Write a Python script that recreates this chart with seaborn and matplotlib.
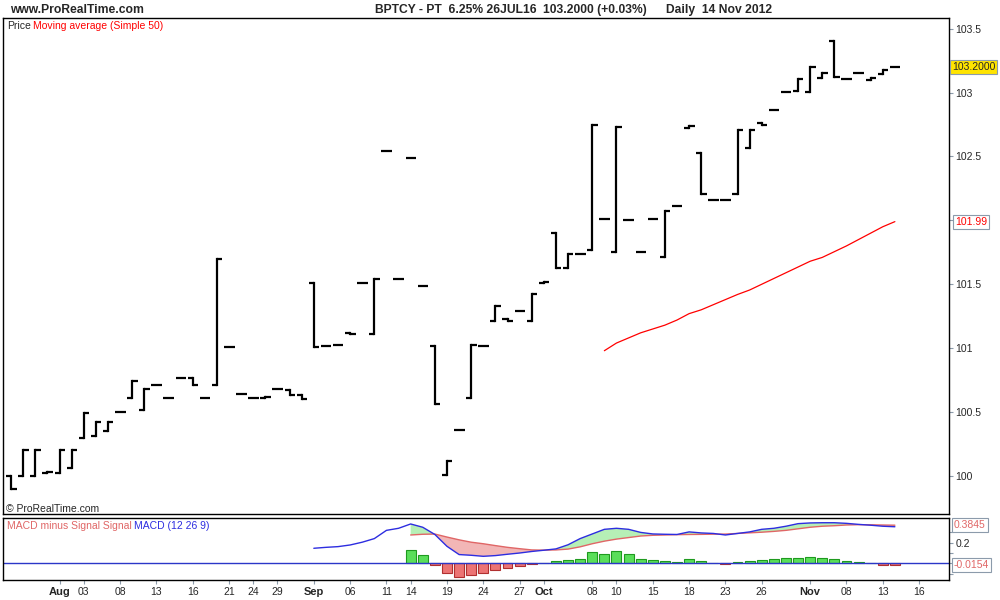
import numpy as np
import pandas as pd
import matplotlib.pyplot as plt
import seaborn as sns

sns.set_style("white")
plt.rcParams["font.family"] = ["Liberation Sans", "DejaVu Sans"]

# daily open / close, one entry per bar (26 Jul .. 14 Nov 2012)
price_open = [100.00, 100.00, 100.00, 100.02, 100.02, 100.06, 100.30, 100.315, 100.35, 100.50,
              100.61, 100.52, 100.71, 100.61, 100.77, 100.77, 100.61, 100.71, 101.01, 100.64,
              100.61, 100.61, 100.68, 100.67, 100.635, 101.51, 101.02, 101.025, 101.12, 101.51,
              101.11, 102.54, 101.54, 102.49, 101.49, 101.02, 100.01, 100.36, 100.61, 101.02,
              101.21, 101.225, 101.29, 101.21, 101.51, 101.90, 101.625, 101.74, 101.77, 102.01,
              101.755, 102.00, 101.755, 102.01, 101.715, 102.115, 102.72, 102.525, 102.16, 102.16,
              102.21, 102.57, 102.765, 102.865, 103.005, 103.01, 103.005, 103.11, 103.40, 103.105,
              103.15, 103.10, 103.145, 103.20]
price_close = [99.90, 100.20, 100.20, 100.03, 100.20, 100.20, 100.49, 100.42, 100.42, 100.50,
               100.74, 100.68, 100.71, 100.61, 100.77, 100.71, 100.61, 101.70, 101.01, 100.64,
               100.61, 100.62, 100.68, 100.635, 100.60, 101.01, 101.02, 101.025, 101.11, 101.51,
               101.54, 102.54, 101.54, 102.49, 101.49, 100.56, 100.12, 100.36, 101.025, 101.02,
               101.33, 101.21, 101.29, 101.42, 101.52, 101.625, 101.74, 101.74, 102.75, 102.01,
               102.73, 102.00, 101.755, 102.01, 102.07, 102.115, 102.735, 102.21, 102.16, 102.16,
               102.71, 102.71, 102.75, 102.865, 103.005, 103.105, 103.20, 103.15, 103.125, 103.105,
               103.15, 103.11, 103.175, 103.20]

# moving average (simple 50), starts at bar 49
ma_start = 49
ma50 = [100.98, 101.04, 101.08, 101.12, 101.15, 101.18, 101.22, 101.27, 101.30, 101.34,
        101.38, 101.42, 101.455, 101.50, 101.545, 101.59, 101.635, 101.68, 101.71, 101.755,
        101.80, 101.85, 101.90, 101.95, 101.99]

# MACD (12 26 9)
macd_start = 25
macd = [0.146, 0.155, 0.162, 0.178, 0.205, 0.24, 0.32, 0.34, 0.382, 0.35,
        0.28, 0.165, 0.085, 0.078, 0.068, 0.075, 0.088, 0.10, 0.115, 0.127,
        0.14, 0.18, 0.24, 0.285, 0.33, 0.34, 0.33, 0.30, 0.285, 0.282,
        0.28, 0.305, 0.295, 0.29, 0.275, 0.29, 0.305, 0.33, 0.34, 0.36,
        0.385, 0.392, 0.394, 0.394, 0.388, 0.378, 0.37, 0.36, 0.355]
signal_start = 33
signal = [0.275, 0.282, 0.284, 0.255, 0.228, 0.205, 0.19, 0.172, 0.155, 0.142,
          0.13, 0.128, 0.13, 0.138, 0.16, 0.19, 0.215, 0.235, 0.25, 0.265,
          0.272, 0.275, 0.278, 0.28, 0.281, 0.283, 0.284, 0.29, 0.296, 0.302,
          0.31, 0.32, 0.335, 0.35, 0.36, 0.365, 0.372, 0.375, 0.374, 0.372,
          0.37]
hist = [0.125, 0.08, -0.017, -0.09, -0.135, -0.115, -0.097, -0.065, -0.05, -0.027,
        -0.01, 0.002, 0.022, 0.032, 0.042, 0.107, 0.09, 0.119, 0.09, 0.042,
        0.03, 0.019, 0.013, 0.042, 0.022, 0.002, -0.01, 0.013, 0.022, 0.032,
        0.042, 0.051, 0.051, 0.061, 0.051, 0.042, 0.022, 0.013, 0.0, -0.012,
        -0.0154]

tick_pos = [4, 6, 9, 12, 15, 18, 20, 22, 25, 28, 31, 33, 36, 39, 42, 44,
            48, 50, 53, 56, 59, 62, 66, 69, 72, 75]
tick_lab = ["Aug", "03", "08", "13", "16", "21", "24", "29", "Sep", "06", "11", "14",
            "19", "24", "27", "Oct", "08", "10", "15", "18", "23", "26", "Nov", "08", "13", "16"]
months = ["Aug", "Sep", "Oct", "Nov"]

# the 102 label sits under the moving-average box
price_ticks = [100, 100.5, 101, 101.5, 102, 102.5, 103, 103.5]
price_labels = ["100", "100.5", "101", "101.5", "", "102.5", "103", "103.5"]
macd_ticks = [0.3, 0.2, 0.1, 0, -0.1]
macd_labels = ["", "0.2", "", "", ""]

bars = pd.DataFrame({"open": price_open, "close": price_close})
bars["bar"] = np.arange(len(bars))
bars["high"] = bars[["open", "close"]].max(axis=1)
bars["low"] = bars[["open", "close"]].min(axis=1)

ma = pd.DataFrame({"bar": np.arange(ma_start, ma_start + len(ma50)), "ma": ma50})
mac = pd.DataFrame({"bar": np.arange(macd_start, macd_start + len(macd)), "macd": macd})
sig = pd.DataFrame({"bar": np.arange(signal_start, signal_start + len(signal)),
                    "signal": signal, "hist": hist})
both = mac.merge(sig, on="bar")

grey = "#8c9bab"
fig = plt.figure(figsize=(10, 6), dpi=100)
ax = fig.add_axes([0.0033, 0.14283, 0.9457, 0.82667])
ax2 = fig.add_axes([0.0033, 0.03333, 0.9457, 0.10283])

# price bars: left tick = open, right tick = close
ax.vlines(bars["bar"], bars["low"], bars["high"], color="black", lw=1.6, capstyle="projecting")
ax.hlines(bars["open"], bars["bar"] - 0.42, bars["bar"], color="black", lw=1.6)
ax.hlines(bars["close"], bars["bar"], bars["bar"] + 0.45, color="black", lw=1.6)
sns.lineplot(data=ma, x="bar", y="ma", ax=ax, color="red", lw=0.9)

ax.set_xlim(-0.65, 77.47)
ax.set_ylim(99.70, 103.581)
ax.set_xlabel("")
ax.set_ylabel("")
ax.set_yticks(price_ticks, price_labels)
ax.get_yticklabels()[0].set_fontweight("bold")
ax.tick_params(axis="x", bottom=False, labelbottom=False)
ax.tick_params(axis="y", left=False, labelleft=False, right=True, labelright=True,
               direction="out", length=3, width=0.8, color=grey, labelsize=7.5, pad=1.5)
for s in ax.spines.values():
    s.set_color("black")
    s.set_linewidth(1)

ax.annotate("103.2000", xy=(1, price_close[-1]), xycoords=("axes fraction", "data"),
            xytext=(2.3, 0), textcoords="offset points", va="center", ha="left", fontsize=7.5,
            bbox=dict(boxstyle="square,pad=0.18", fc="#ffe400", ec=grey, lw=0.8),
            annotation_clip=False)
ax.annotate("101.99", xy=(1, ma50[-1]), xycoords=("axes fraction", "data"),
            xytext=(4.2, 0), textcoords="offset points", va="center", ha="left", fontsize=7.5,
            color="red", bbox=dict(boxstyle="square,pad=0.18", fc="white", ec=grey, lw=0.8),
            annotation_clip=False)

# MACD panel
ax2.fill_between(both["bar"], both["macd"], both["signal"], where=both["macd"] >= both["signal"],
                 interpolate=True, color="#b6efb6", lw=0)
ax2.fill_between(both["bar"], both["macd"], both["signal"], where=both["macd"] < both["signal"],
                 interpolate=True, color="#f2b6b6", lw=0)
colors = np.where(sig["hist"] >= 0, "#5ade5a", "#ec7474")
edges = np.where(sig["hist"] >= 0, "#1f9a1f", "#b03030")
ax2.bar(sig["bar"], sig["hist"], width=0.82, color=colors, edgecolor=edges, lw=0.8)
ax2.axhline(0, color="#2b37c8", lw=1)
sns.lineplot(data=sig, x="bar", y="signal", ax=ax2, color="#e06666", lw=1)
sns.lineplot(data=mac, x="bar", y="macd", ax=ax2, color="#2d2de0", lw=1)

ax2.set_xlim(-0.65, 77.47)
ax2.set_ylim(-0.162, 0.437)
ax2.set_xlabel("")
ax2.set_ylabel("")
ax2.set_yticks(macd_ticks, macd_labels)
ax2.tick_params(axis="y", left=False, labelleft=False, right=True, labelright=True,
                direction="out", length=3, width=0.8, color=grey, labelsize=7.5, pad=1.5)
ax2.set_xticks(tick_pos, tick_lab)
ax2.tick_params(axis="x", bottom=True, direction="out", length=3, width=0.8, color=grey,
                labelsize=7.5, pad=2)
for t in ax2.get_xticklabels():
    if t.get_text() in months:
        t.set_fontweight("bold")
        t.set_fontsize(8)
for s in ax2.spines.values():
    s.set_color("black")
    s.set_linewidth(1)

ax2.annotate("0.3845", xy=(1, signal[-1]), xycoords=("axes fraction", "data"),
             xytext=(3.6, 0), textcoords="offset points", va="center", ha="left", fontsize=7.5,
             color="#e06666", bbox=dict(boxstyle="square,pad=0.18", fc="white", ec=grey, lw=0.8),
             annotation_clip=False)
ax2.annotate("-0.0154", xy=(1, hist[-1]), xycoords=("axes fraction", "data"),
             xytext=(3.6, 0), textcoords="offset points", va="center", ha="left", fontsize=7.5,
             color="#e06666", bbox=dict(boxstyle="square,pad=0.18", fc="white", ec=grey, lw=0.8),
             annotation_clip=False)

# header and legends
fig.text(0.010, 1 - 10 / 600, "www.ProRealTime.com", fontsize=8.7, fontweight="bold", va="center")
fig.text(0.375, 1 - 10 / 600, "BPTCY - PT  6.25% 26JUL16", fontsize=8.7, fontweight="bold", va="center")
fig.text(0.543, 1 - 10 / 600, "103.2000 (+0.03%)", fontsize=8.7, fontweight="bold", va="center")
fig.text(0.666, 1 - 10 / 600, "Daily  14 Nov 2012", fontsize=8.7, fontweight="bold", va="center")

fig.text(0.007, 1 - 26 / 600, "Price", fontsize=7.5, va="center")
fig.text(0.033, 1 - 26 / 600, "Moving average (Simple 50)", fontsize=7.5, color="red", va="center")
fig.text(0.006, 1 - 509 / 600, "\u00a9 ProRealTime.com", fontsize=7.5, va="center")
fig.text(0.0067, 1 - 526 / 600, "MACD minus Signal Signal", fontsize=7.5, color="#e06666", va="center")
fig.text(0.134, 1 - 526 / 600, "MACD (12 26 9)", fontsize=7.5, color="#2d2de0", va="center")

fig.savefig("out.png", dpi=100)
